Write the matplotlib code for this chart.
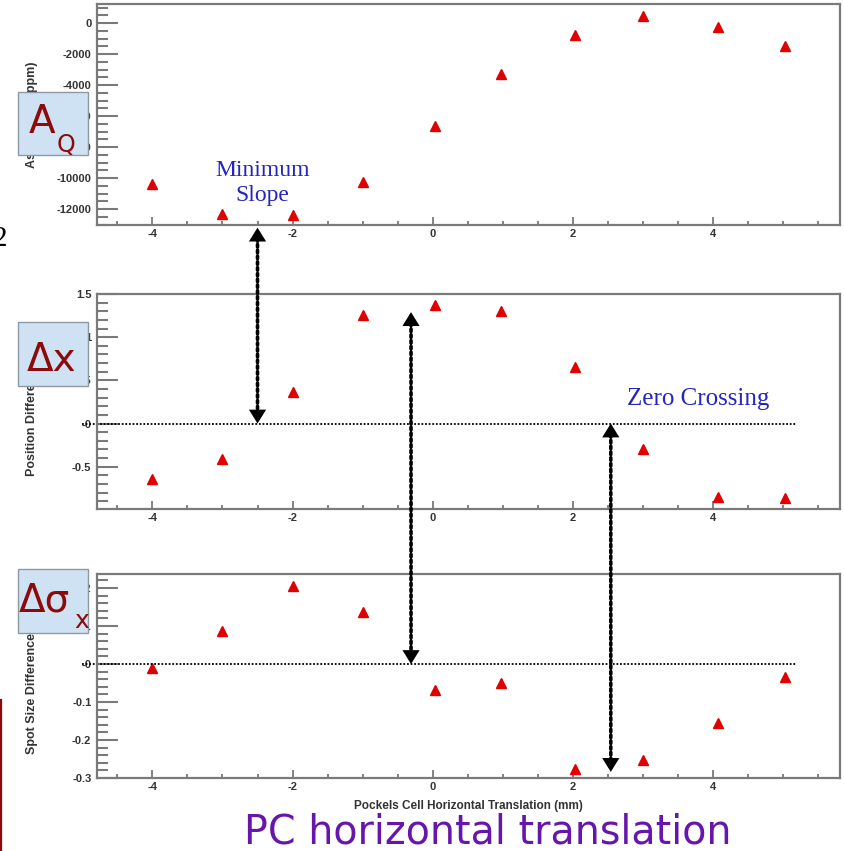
import matplotlib
matplotlib.use("Agg")
import matplotlib.pyplot as plt
from matplotlib.patches import Rectangle, ConnectionPatch
from matplotlib.ticker import FixedLocator, MultipleLocator

# Pockels cell horizontal translation scan (mm)
pc_x = [-4.0, -3.0, -2.0, -1.0, 0.03, 0.97, 2.03, 3.0, 4.07, 5.03]

# charge asymmetry (ppm)
asym = [-10390, -12320, -12390, -10250, -6650, -3290, -770, 450, -260, -1480]
# position difference (mm)
pos_diff = [-0.64, -0.41, 0.36, 1.26, 1.37, 1.30, 0.65, -0.30, -0.85, -0.86]
# spot size difference (mm)
spot_diff = [-0.011, 0.087, 0.205, 0.137, -0.068, -0.050, -0.276, -0.253, -0.155, -0.034]

x_ticks = [-4, -2, 0, 2, 4]
x_ticklabels = ['-4', '-2', '0', '2', '4']
asym_ticks = [-12000, -10000, -8000, -6000, -4000, -2000, 0]
asym_ticklabels = ['-12000', '-10000', '-8000', '-6000', '-4000', '-2000', '0']
pos_ticks = [-0.5, 0, 0.5, 1, 1.5]
pos_ticklabels = ['-0.5', '-0', '0.5', '1', '1.5']
spot_ticks = [-0.3, -0.2, -0.1, 0, 0.1, 0.2]
spot_ticklabels = ['-0.3', '-0.2', '-0.1', '-0', '0.1', '0.2']

W, H = 845, 851
fig = plt.figure(figsize=(W / 100, H / 100), dpi=100)


def px_axes(left, top, right, bottom):
    return fig.add_axes([left / W, 1 - bottom / H, (right - left) / W, (bottom - top) / H])


frame = '#7a7a7a'
tick_font = dict(family='Liberation Sans', weight='bold', size=8, color='#333333')


def root_style(ax, yticks, ylabels, yminor, ylabel):
    ax.set_xlim(-4.79, 5.81)
    for s in ax.spines.values():
        s.set_color(frame)
        s.set_linewidth(1.6)
    ax.xaxis.set_major_locator(FixedLocator(x_ticks))
    ax.set_xticklabels(x_ticklabels, fontdict=tick_font)
    ax.xaxis.set_minor_locator(MultipleLocator(0.5))
    ax.yaxis.set_major_locator(FixedLocator(yticks))
    ax.set_yticklabels(ylabels, fontdict=tick_font)
    ax.yaxis.set_minor_locator(MultipleLocator(yminor))
    ax.tick_params(axis='y', which='major', direction='in', length=15, width=1.5,
                   color=frame, pad=4)
    ax.tick_params(axis='y', which='minor', direction='in', length=8, width=1.5,
                   color=frame)
    ax.tick_params(axis='x', which='major', direction='in', length=6, width=1.3,
                   color=frame, pad=3)
    ax.tick_params(axis='x', which='minor', direction='in', length=3, width=1.3,
                   color=frame)
    ax.set_ylabel(ylabel, family='Liberation Sans', weight='bold', size=9, color='#333333')
    ax.yaxis.set_label_coords(-0.079, 0.5)


ax1 = px_axes(97, 4, 840, 225)
ax2 = px_axes(97, 294, 840, 509)
ax3 = px_axes(97, 574, 840, 778)

mk = dict(marker='^', ls='none', color='#e00000', ms=7)
ax1.plot(pc_x, asym, **mk)
ax2.plot(pc_x, pos_diff, **mk)
ax3.plot(pc_x, spot_diff, **mk)

root_style(ax1, asym_ticks, asym_ticklabels, 500, 'Asymmetry (ppm)')
root_style(ax2, pos_ticks, pos_ticklabels, 0.1, 'Position Difference (mm)')
root_style(ax3, spot_ticks, spot_ticklabels, 0.02, 'Spot Size Difference (mm)')
ax1.set_ylim(-13030, 1230)
ax2.set_ylim(-0.99, 1.5)
ax3.set_ylim(-0.3, 0.237)
ax3.set_xlabel('Pockels Cell Horizontal Translation (mm)', family='Liberation Sans',
               weight='bold', size=8.5, color='#333333')
ax3.xaxis.set_label_coords(0.5, -0.11)

# dotted zero reference lines
for ax in (ax2, ax3):
    ax.plot([-5.0, 5.2], [0, 0], ls=(0, (1, 1)), lw=1.3, color='black', clip_on=False)

# dotted double arrows linking features across panels
head_len = 10  # points
arrows = [(-2.5, ax1, -13200, ax2, 0.0),
          (-0.31, ax2, 1.29, ax3, 0.0),
          (2.54, ax2, 0.0, ax3, -0.284)]
for xa, axA, ya, axB, yb in arrows:
    con = ConnectionPatch(xyA=(xa, ya), coordsA=axA.transData,
                          xyB=(xa, yb), coordsB=axB.transData,
                          arrowstyle='-', shrinkA=8, shrinkB=8,
                          ls=(0, (0.7, 0.9)), lw=2.6, color='black')
    fig.add_artist(con)
    # solid heads: upward tip on the upper end, downward tip on the lower end
    for ax, y, off in [(axA, ya, -head_len), (axB, yb, head_len)]:
        ax.annotate('', xy=(xa, y), xytext=(0, off), textcoords='offset points',
                    annotation_clip=False,
                    arrowprops=dict(arrowstyle='-|>,head_length=0.5,head_width=0.31',
                                    mutation_scale=20, shrinkA=0, shrinkB=0,
                                    lw=0, color='black'))

serif_blue = dict(family='Liberation Serif', color='#2424c0')
ax1.text(-2.43, -10320, 'Minimum\nSlope', ha='center', va='center', size=17,
         linespacing=1.2, **serif_blue)
ax2.text(3.79, 0.28, 'Zero Crossing', ha='center', va='center', size=18, **serif_blue)

# labelled boxes on the left
box_kw = dict(facecolor='#cfe2f3', edgecolor='#8d9aa6', lw=1.0, transform=fig.transFigure)
for top, bottom in [(92, 155), (322, 386), (569, 633)]:
    fig.patches.append(Rectangle((18 / W, 1 - bottom / H), 70 / W, (bottom - top) / H, **box_kw))

dark_red = '#8c0a0a'


def ftext(x, y, s, size):
    fig.text(x / W, 1 - y / H, s, size=size, color=dark_red, family='DejaVu Sans',
             ha='left', va='baseline')


ftext(29, 133, 'A', 28)
ftext(57, 152, 'Q', 17)
ftext(27, 371, 'Δx', 28)
ftext(19, 612, 'Δσ', 28)
ftext(74, 628, 'x', 18)

fig.text(488 / W, 1 - 843 / H, 'PC horizontal translation', size=28.5, color='#6616aa',
         family='DejaVu Sans', ha='center', va='baseline')
fig.text(-7 / W, 1 - 246 / H, '2', size=21, family='Liberation Serif', color='black',
         ha='left', va='baseline')
fig.add_artist(plt.Line2D([1.5 / W, 1.5 / W], [0, 1 - 700 / H], color='#8c0a0a', lw=1.6,
                          transform=fig.transFigure))

fig.savefig('out.png', dpi=100)
